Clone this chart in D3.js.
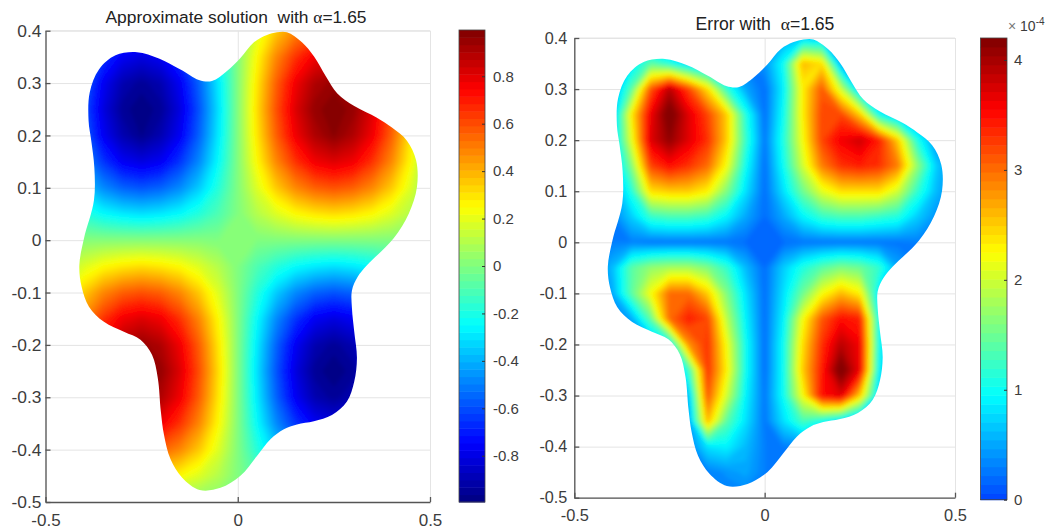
<!DOCTYPE html>
<html>
<head>
<meta charset="utf-8">
<script src="https://cdn.jsdelivr.net/npm/d3@7"></script>
<style>
    html, body { margin: 0; padding: 0; background: #fff; }
    svg { display: block; }
    text { font-family: "Liberation Sans", Arial, sans-serif; fill: #3c3c3c; }
    .grid line { stroke: #e4e4e4; stroke-width: 1; }
    .grid path { display: none; }
    .axis path, .axis line { stroke: #555; stroke-width: 1.3; }
    .axis text { fill: #3c3c3c; font-family: "Liberation Sans", Arial, sans-serif; }
    .bar-axis path { display: none; }
    .bar-axis line { stroke: #333; stroke-width: 1; }
    .bar-axis text { font-size: 15px; fill: #3c3c3c; font-family: "Liberation Sans", Arial, sans-serif; }
</style>
</head>
<body>
<div id="chart"></div>
<script>
// grid of the two fields
const gridX = [-0.5, -0.45, -0.4, -0.35, -0.3, -0.25, -0.2, -0.15, -0.1, -0.05, 0, 0.05, 0.1, 0.15, 0.2, 0.25, 0.3, 0.35, 0.4, 0.45, 0.5];
const gridY = [0.4, 0.35, 0.3, 0.25, 0.2, 0.15, 0.1, 0.05, 0, -0.05, -0.1, -0.15, -0.2, -0.25, -0.3, -0.35, -0.4, -0.45, -0.5];

const solutionValues = [
    [0, -.18, -.35, -.48, -.56, -.59, -.56, -.48, -.35, -.18, 0, .18, .35, .48, .56, .59, .56, .48, .35, .18, 0],
    [0, -.25, -.48, -.65, -.77, -.81, -.77, -.65, -.48, -.25, 0, .25, .48, .65, .77, .81, .77, .65, .48, .25, 0],
    [0, -.29, -.56, -.77, -.90, -.95, -.90, -.77, -.56, -.29, 0, .29, .56, .77, .90, .95, .90, .77, .56, .29, 0],
    [0, -.31, -.59, -.81, -.95, -.99, -.95, -.81, -.59, -.31, 0, .31, .59, .81, .95, .99, .95, .81, .59, .31, 0],
    [0, -.29, -.56, -.77, -.90, -.97, -.90, -.77, -.56, -.29, 0, .29, .56, .77, .90, .97, .90, .77, .56, .29, 0],
    [0, -.25, -.48, -.65, -.77, -.81, -.77, -.65, -.48, -.25, 0, .25, .48, .65, .77, .81, .77, .65, .48, .25, 0],
    [0, -.18, -.35, -.48, -.56, -.59, -.56, -.48, -.35, -.18, 0, .18, .35, .48, .56, .59, .56, .48, .35, .18, 0],
    [0, -.10, -.18, -.25, -.29, -.31, -.29, -.25, -.18, -.10, 0, .10, .18, .25, .29, .31, .29, .25, .18, .10, 0],
    [0, 0, .01, .01, .01, .01, .01, .01, .01, 0, 0, 0, 0, 0, 0, 0, 0, 0, 0, 0, 0],
    [0, .10, .18, .25, .29, .31, .29, .25, .18, .10, 0, -.10, -.18, -.25, -.29, -.31, -.29, -.25, -.18, -.10, 0],
    [0, .18, .35, .48, .56, .59, .56, .48, .35, .18, 0, -.18, -.35, -.48, -.56, -.59, -.56, -.48, -.35, -.18, 0],
    [0, .25, .48, .65, .77, .81, .77, .65, .48, .25, 0, -.25, -.48, -.65, -.77, -.81, -.77, -.65, -.48, -.25, 0],
    [0, .29, .56, .77, .90, .95, .90, .77, .56, .29, 0, -.29, -.56, -.77, -.90, -.95, -.90, -.77, -.56, -.29, 0],
    [0, .31, .59, .81, .95, .99, .95, .81, .59, .31, 0, -.31, -.59, -.81, -.95, -.99, -.95, -.81, -.59, -.31, 0],
    [0, .29, .56, .77, .90, .95, .90, .77, .56, .29, 0, -.29, -.56, -.77, -.90, -.95, -.90, -.77, -.56, -.29, 0],
    [0, .25, .48, .65, .77, .81, .77, .65, .48, .25, 0, -.25, -.48, -.65, -.77, -.81, -.77, -.65, -.48, -.25, 0],
    [0, .18, .35, .48, .56, .59, .56, .48, .35, .18, 0, -.18, -.35, -.48, -.56, -.59, -.56, -.48, -.35, -.18, 0],
    [0, .10, .18, .25, .29, .31, .29, .25, .18, .10, 0, -.10, -.18, -.25, -.29, -.31, -.29, -.25, -.18, -.10, 0],
    [0, 0, 0, 0, 0, 0, 0, 0, 0, 0, 0, 0, 0, 0, 0, 0, 0, 0, 0, 0, 0]
];

// error, in units of 1e-4
const errorValues = [
    [.3, .3, .3, .3, .3, .3, .3, .3, .3, .3, .3, .5, .7, .6, .3, .3, .3, .3, .3, .3, .3],
    [.3, .3, .3, .8, 1.4, 1.1, .7, .4, .3, .3, .4, 1.0, 2.6, 2.4, .5, .3, .3, .3, .3, .3, .3],
    [.3, .3, .4, 1.4, 3.1, 3.9, 3.2, 2.4, 1.2, .5, .2, .9, 2.3, 3.1, 2.0, .6, .3, .3, .3, .3, .3],
    [.3, .3, .5, 2.3, 3.6, 4.3, 3.7, 3.2, 2.5, 1.1, .2, 1.0, 2.3, 3.2, 3.2, 2.5, 1.0, .5, .3, .3, .3],
    [.3, .3, .6, 2.1, 3.7, 4.1, 3.7, 3.3, 2.5, 1.2, .25, 1.1, 2.2, 3.2, 3.6, 3.8, 3.4, 2.5, 1.1, .4, .3],
    [.3, .3, .5, 1.6, 3.2, 3.5, 3.3, 3.0, 2.2, 1.0, .2, 1.0, 2.0, 2.9, 3.3, 3.4, 3.3, 2.9, 1.7, .7, .3],
    [.3, .3, .4, 1.1, 2.4, 2.5, 2.5, 2.3, 1.6, .8, .2, .8, 1.5, 2.1, 2.4, 2.4, 2.4, 2.0, 1.2, .6, .3],
    [.3, .3, .3, .7, 1.2, 1.3, 1.3, 1.2, .9, .5, .2, .5, .9, 1.2, 1.3, 1.3, 1.2, 1.1, .7, .4, .3],
    [.3, .3, .3, .3, .25, .25, .25, .25, .25, .2, .2, .2, .25, .25, .25, .25, .25, .25, .3, .3, .3],
    [.3, .3, .6, 1.4, 1.7, 1.8, 1.8, 1.6, 1.2, .6, .2, .7, 1.1, 1.4, 1.6, 1.5, 1.2, .5, .3, .3, .3],
    [.3, .3, .5, 1.4, 2.2, 3.0, 3.0, 2.5, 1.6, .8, .2, .8, 1.5, 2.2, 2.6, 2.3, .8, .3, .3, .3, .3],
    [.3, .3, .3, .5, 1.4, 3.0, 3.4, 3.2, 1.9, .9, .2, .9, 2.2, 3.1, 3.5, 3.4, 1.0, .3, .3, .3, .3],
    [.3, .3, .3, .3, .4, .8, 2.8, 3.3, 2.2, 1.0, .2, 1.0, 2.4, 3.3, 3.9, 3.6, 1.0, .3, .3, .3, .3],
    [.3, .3, .3, .3, .3, .3, 1.2, 3.3, 2.3, 1.0, .2, 1.0, 2.5, 3.4, 4.3, 3.6, .9, .3, .3, .3, .3],
    [.3, .3, .3, .3, .3, .3, .6, 3.1, 2.0, .9, .25, 1.0, 2.2, 3.5, 3.7, 2.5, .7, .3, .3, .3, .3],
    [.3, .3, .3, .3, .3, .3, .4, 2.6, 1.4, .8, .25, .8, 1.3, 1.0, .7, .3, .3, .3, .3, .3, .3],
    [.3, .3, .3, .3, .3, .3, .3, .8, .9, .6, .3, .3, .3, .3, .3, .3, .3, .3, .3, .3, .3],
    [.3, .3, .3, .3, .3, .3, .3, .3, .4, .5, .3, .3, .3, .3, .3, .3, .3, .3, .3, .3, .3],
    [.3, .3, .3, .3, .3, .3, .3, .3, .3, .3, .3, .3, .3, .3, .3, .3, .3, .3, .3, .3, .3]
];

// outline of the region, clockwise from the top
const boundary = [
    [0.102, 0.397], [0.128, 0.397], [0.167, 0.378], [0.198, 0.351], [0.229, 0.313], [0.259, 0.280],
    [0.303, 0.256], [0.362, 0.234], [0.401, 0.215], [0.440, 0.190], [0.464, 0.152], [0.466, 0.101],
    [0.445, 0.051], [0.405, 0.003], [0.336, -0.048], [0.312, -0.070], [0.297, -0.096], [0.297, -0.130],
    [0.303, -0.175], [0.310, -0.225], [0.303, -0.270], [0.284, -0.308], [0.245, -0.334], [0.198, -0.346],
    [0.154, -0.352], [0.120, -0.361], [0.085, -0.380], [0.050, -0.412], [0.007, -0.450], [-0.045, -0.473],
    [-0.099, -0.477], [-0.145, -0.453], [-0.175, -0.418], [-0.192, -0.371], [-0.200, -0.327], [-0.208, -0.263],
    [-0.223, -0.219], [-0.253, -0.190], [-0.296, -0.175], [-0.348, -0.156], [-0.387, -0.127], [-0.406, -0.089],
    [-0.412, -0.048], [-0.400, 0.003], [-0.374, 0.076], [-0.373, 0.139], [-0.381, 0.190], [-0.388, 0.228],
    [-0.385, 0.282], [-0.361, 0.326], [-0.318, 0.353], [-0.262, 0.359], [-0.205, 0.347], [-0.149, 0.326],
    [-0.101, 0.306], [-0.067, 0.304], [-0.028, 0.323], [0.007, 0.348], [0.042, 0.378], [0.076, 0.392]
];

const xTicks = [-0.5, 0, 0.5];
const yTicks = [-0.5, -0.4, -0.3, -0.2, -0.1, 0, 0.1, 0.2, 0.3, 0.4];
const solutionBarTicks = [-0.8, -0.6, -0.4, -0.2, 0, 0.2, 0.4, 0.6, 0.8];
const errorBarTicks = [0, 1, 2, 3, 4];

const jetStops = [0, 0.125, 0.375, 0.625, 0.875, 1];
const jetColors = ["#00007f", "#0000ff", "#00ffff", "#ffff00", "#ff0000", "#7f0000"];
const jet = d3.scaleLinear().domain(jetStops).range(jetColors).interpolate(d3.interpolateRgb);

const svg = d3.select("#chart").append("svg").attr("width", 1051).attr("height", 530);

const defs = svg.append("defs");
defs.append("filter").attr("id", "soften")
    .attr("x", "-5%").attr("y", "-5%").attr("width", "110%").attr("height", "110%")
    .append("feGaussianBlur").attr("stdDeviation", 2.2);

// plain hyphen in the labels, as in the original
const axisLabelFormat = d => String(d);

function drawPanel(cfg) {
    const x = d3.scaleLinear().domain([-0.5, 0.5]).range([cfg.left, cfg.right]);
    const y = d3.scaleLinear().domain([-0.5, 0.4]).range([cfg.bottom, cfg.top]);
    const g = svg.append("g");

    // grid lines and the light top/right box edges
    g.append("g").attr("class", "grid")
        .attr("transform", `translate(${cfg.left},0)`)
        .call(d3.axisLeft(y).tickValues(yTicks).tickSize(-(cfg.right - cfg.left)).tickFormat(""));
    g.append("g").attr("class", "grid")
        .attr("transform", `translate(0,${cfg.bottom})`)
        .call(d3.axisBottom(x).tickValues(xTicks).tickSize(-(cfg.bottom - cfg.top)).tickFormat(""));
    g.append("line").attr("x1", cfg.left).attr("x2", cfg.right).attr("y1", cfg.top).attr("y2", cfg.top)
        .attr("stroke", "#e4e4e4");

    // filled field, clipped to the region outline
    const outlinePath = d3.line().x(d => x(d[0])).y(d => y(d[1])).curve(d3.curveCatmullRomClosed.alpha(0.5))(boundary);
    defs.append("clipPath").attr("id", cfg.id + "-clip").append("path").attr("d", outlinePath);

    const levels = 64;
    const step = (cfg.domain[1] - cfg.domain[0]) / levels;
    const thresholds = d3.range(levels).map(i => cfg.domain[0] + i * step);
    const flat = cfg.values.flat();
    const contours = d3.contours().size([gridX.length, gridY.length]).thresholds(thresholds).smooth(true)(flat);

    const colX = d3.scaleLinear().domain([0.5, gridX.length - 0.5]).range([x(gridX[0]), x(gridX[gridX.length - 1])]);
    const rowY = d3.scaleLinear().domain([0.5, gridY.length - 0.5]).range([y(gridY[0]), y(gridY[gridY.length - 1])]);
    const path = d3.geoPath(d3.geoTransform({
        point(px, py) { this.stream.point(colX(px), rowY(py)); }
    }));
    const color = v => jet((v - cfg.domain[0]) / (cfg.domain[1] - cfg.domain[0]));

    g.append("g").attr("clip-path", `url(#${cfg.id}-clip)`)
        .append("g").attr("filter", "url(#soften)")
        .selectAll("path")
        .data(contours)
        .join("path")
        .attr("d", path)
        .attr("fill", d => color(d.value + step / 2))
        .attr("stroke", d => color(d.value + step / 2))
        .attr("stroke-width", 0.6);

    // axes
    g.append("g").attr("class", "axis")
        .attr("transform", `translate(${cfg.left},0)`)
        .call(d3.axisLeft(y).tickValues(yTicks).tickSize(-5).tickSizeOuter(0).tickPadding(cfg.yPad).tickFormat(axisLabelFormat))
        .selectAll("text").attr("font-size", cfg.yFont);
    g.append("g").attr("class", "axis")
        .attr("transform", `translate(0,${cfg.bottom})`)
        .call(d3.axisBottom(x).tickValues(xTicks).tickSize(-5).tickSizeOuter(0).tickPadding(cfg.xPad).tickFormat(axisLabelFormat))
        .selectAll("text").attr("font-size", cfg.xFont);

    // title with the serif alpha
    const title = g.append("text")
        .attr("x", cfg.titleX).attr("y", cfg.titleY)
        .attr("text-anchor", "middle")
        .attr("font-size", cfg.titleSize)
        .style("fill", "#222");
    title.append("tspan").text(cfg.titleText);
    title.append("tspan").style("font-family", "'Liberation Serif', serif").text("\u03b1");
    title.append("tspan").text("=1.65");

    // colorbar, one block per colormap level
    const barY = d3.scaleLinear().domain(cfg.barDomain).range([cfg.barBottom, cfg.barTop]);
    const barG = svg.append("g");
    const barLevels = thresholds.filter(t => t + step > cfg.barDomain[0]);
    barG.selectAll("rect.level")
        .data(barLevels)
        .join("rect")
        .attr("class", "level")
        .attr("x", cfg.barLeft)
        .attr("width", cfg.barRight - cfg.barLeft)
        .attr("y", d => barY(Math.min(d + step, cfg.barDomain[1])))
        .attr("height", d => Math.abs(barY(Math.max(d, cfg.barDomain[0])) - barY(Math.min(d + step, cfg.barDomain[1]))) + 0.5)
        .attr("fill", d => color(d + step / 2));
    barG.append("rect")
        .attr("x", cfg.barLeft).attr("y", cfg.barTop)
        .attr("width", cfg.barRight - cfg.barLeft).attr("height", cfg.barBottom - cfg.barTop)
        .attr("fill", "none").attr("stroke", "#444").attr("stroke-width", 0.8);
    barG.append("g").attr("class", "bar-axis")
        .attr("transform", `translate(${cfg.barRight},0)`)
        .call(d3.axisRight(barY).tickValues(cfg.barTicks).tickSize(-3).tickSizeOuter(0).tickPadding(cfg.barPad).tickFormat(axisLabelFormat));
    return barG;
}

drawPanel({
    id: "solution", values: solutionValues, domain: [-0.995, 0.995],
    left: 45.5, right: 430, top: 30.7, bottom: 502, yPad: 4, xPad: 12, yFont: 17.4, xFont: 17,
    titleText: "Approximate solution\u00a0\u00a0with\u00a0", titleX: 236, titleY: 23, titleSize: 17.4,
    barLeft: 459, barRight: 485, barTop: 30, barBottom: 502, barDomain: [-0.995, 0.995],
    barTicks: solutionBarTicks, barPad: 8
});

const errorBar = drawPanel({
    id: "error", values: errorValues, domain: [-1, 4.2],
    left: 574.3, right: 955, top: 38, bottom: 497.7, yPad: 7, xPad: 12, yFont: 16.2, xFont: 16.4,
    titleText: "Error with\u00a0\u00a0", titleX: 765, titleY: 30, titleSize: 17.6,
    barLeft: 980.5, barRight: 1007, barTop: 38, barBottom: 499.7, barDomain: [0, 4.2],
    barTicks: errorBarTicks, barPad: 7
});

// exponent label over the error colorbar
const exponent = errorBar.append("text").attr("x", 1008).attr("y", 31).attr("font-size", 14);
exponent.append("tspan").style("fill", "#777").text("\u00d7 ");
exponent.append("tspan").text("10");
exponent.append("tspan").attr("font-size", 10).attr("dy", -6).text("-4");
</script>
</body>
</html>
